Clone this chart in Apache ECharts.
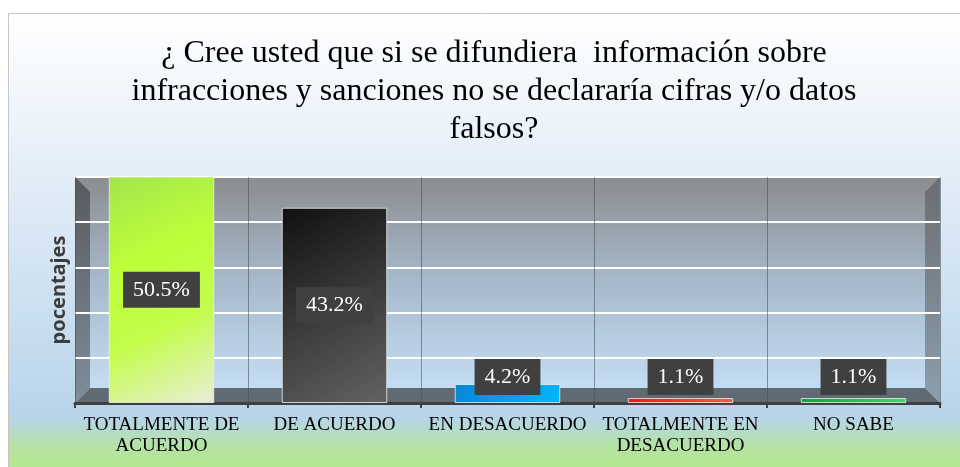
<!DOCTYPE html>
<html>
<head>
<meta charset="utf-8">
<script src="https://cdn.jsdelivr.net/npm/echarts@6/dist/echarts.min.js"></script>
<style>
  html, body { margin: 0; padding: 0; background: #fff; }
  #chart { width: 960px; height: 467px; }
</style>
</head>
<body>
<div id="chart"></div>
<script>
var titleText = '¿ Cree usted que si se difundiera  información sobre\ninfracciones y sanciones no se declararía cifras y/o datos\nfalsos?';
var categories = ['TOTALMENTE DE\nACUERDO', 'DE ACUERDO', 'EN DESACUERDO', 'TOTALMENTE EN\nDESACUERDO', 'NO SABE'];
var values = [50.5, 43.2, 4.2, 1.1, 1.1];
var yTicks = [0, 10, 20, 30, 40, 50];

// colores de cada barra (degradados)
var barStops = [
  [['#a4e44c', 0], ['#bcff3a', 0.35], ['#c4fc4c', 0.65], ['#e9eed8', 1]],
  [['#101010', 0], ['#3a3a3a', 0.5], ['#626262', 1]],
  [['#0a86d6', 0], ['#00b6fa', 1]],
  [['#ff1010', 0], ['#ff5a44', 1]],
  [['#17a03c', 0], ['#46d264', 1]]
];

// plano del grafico
var G = { left: 75, right: 20, top: 177, bottom: 64 };
var W = 960, H = 467, D = 15;
var gx0 = G.left, gx1 = W - G.right, gy0 = G.top, gy1 = H - G.bottom;

function grad(stops, x2, y2) {
  return new echarts.graphic.LinearGradient(0, 0, x2, y2, stops.map(function (s) {
    return { offset: s[1], color: s[0] };
  }));
}

var chart = echarts.init(document.getElementById('chart'), null, { renderer: 'canvas' });

var option = {
  backgroundColor: '#ffffff',
  animation: false,
  title: {
    text: titleText,
    left: 494,
    top: 35,
    padding: 0,
    textAlign: 'center',
    textStyle: {
      fontFamily: 'Liberation Serif',
      fontWeight: 'normal',
      fontSize: 32,
      lineHeight: 38,
      color: '#000'
    }
  },
  graphic: [
    {
      type: 'rect', z: -20,
      shape: { x: 8.5, y: 13.5, width: 980, height: 470 },
      style: {
        fill: new echarts.graphic.LinearGradient(0, 0, 0, 1, [
          { offset: 0, color: '#ffffff' },
          { offset: 0.35, color: '#e2edf8' },
          { offset: 0.86, color: '#b8d4ea' },
          { offset: 0.92, color: '#b4e2a4' },
          { offset: 1, color: '#b4ee80' }
        ]),
        stroke: '#c6c6c6', lineWidth: 1
      }
    },
    {
      type: 'rect', z: -10,
      shape: { x: gx0, y: gy0, width: gx1 - gx0, height: gy1 - gy0 },
      style: {
        fill: new echarts.graphic.LinearGradient(0, 0, 0, 1, [
          { offset: 0, color: '#8b8d90' },
          { offset: 0.45, color: '#a6b8ca' },
          { offset: 1, color: '#c8e2f8' }
        ])
      }
    },
    {
      type: 'polygon', z: -9,
      shape: { points: [[gx0, gy0], [gx0 + D, gy0 + D], [gx0 + D, gy1 - D], [gx0, gy1]] },
      style: {
        fill: new echarts.graphic.LinearGradient(0, 0, 0, 1, [
          { offset: 0, color: '#575a5e' },
          { offset: 1, color: '#7f8d9a' }
        ])
      }
    },
    {
      type: 'polygon', z: -9,
      shape: { points: [[gx1, gy0], [gx1 - D, gy0 + D], [gx1 - D, gy1 - D], [gx1, gy1]] },
      style: {
        fill: new echarts.graphic.LinearGradient(0, 0, 0, 1, [
          { offset: 0, color: '#6a6d71' },
          { offset: 1, color: '#8e9eac' }
        ])
      }
    },
    {
      type: 'polygon', z: -9,
      shape: { points: [[gx0, gy1], [gx0 + D, gy1 - D], [gx1 - D, gy1 - D], [gx1, gy1]] },
      style: { fill: '#5f6a73' }
    }
  ],
  grid: {
    left: G.left, right: G.right, top: G.top, bottom: G.bottom,
    containLabel: false
  },
  xAxis: {
    type: 'category',
    data: categories,
    axisLine: { lineStyle: { color: '#3f3f3f', width: 3 } },
    axisTick: { show: true, length: 5, lineStyle: { color: '#3f3f3f', width: 2 } },
    splitLine: { show: true, lineStyle: { color: 'rgba(70,75,80,0.55)', width: 1 } },
    axisLabel: {
      interval: 0,
      margin: 12,
      color: '#000',
      fontFamily: 'Liberation Serif',
      fontSize: 19,
      lineHeight: 21
    }
  },
  yAxis: {
    type: 'value',
    min: yTicks[0],
    max: yTicks[yTicks.length - 1],
    interval: yTicks[1] - yTicks[0],
    name: 'pocentajes',
    nameLocation: 'middle',
    nameRotate: 90,
    nameGap: 6,
    nameTextStyle: {
      fontFamily: 'Noto Sans',
      fontWeight: 'bold',
      fontSize: 20,
      color: '#3c3c3c'
    },
    axisLine: { show: false },
    axisTick: { show: false },
    axisLabel: { show: false },
    splitLine: { show: true, lineStyle: { color: '#ffffff', width: 2 } }
  },
  series: [{
    type: 'bar',
    barWidth: '61%',
    z: 3,
    data: values.map(function (v, i) {
      var big = v >= 10;
      return {
        value: v,
        itemStyle: {
          color: grad(barStops[i], 1, 1),
          borderColor: 'rgba(235,240,245,0.8)',
          borderWidth: 1
        },
        label: {
          position: big ? 'inside' : 'insideBottom',
          distance: big ? 5 : 8
        }
      };
    }),
    label: {
      show: true,
      formatter: function (p) { return p.value.toFixed(1) + '%'; },
      color: '#ffffff',
      fontFamily: 'Liberation Serif',
      fontSize: 22,
      lineHeight: 22,
      backgroundColor: '#404040',
      padding: [7, 10]
    }
  }]
};

chart.setOption(option);
</script>
</body>
</html>
